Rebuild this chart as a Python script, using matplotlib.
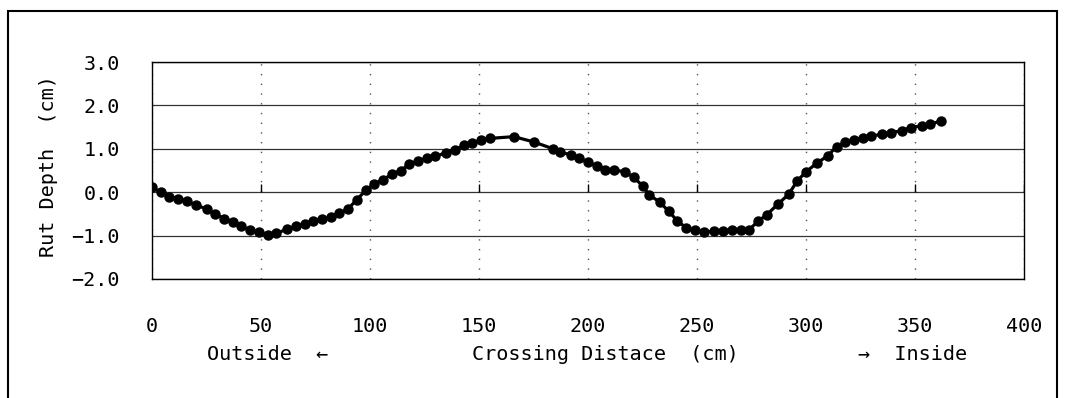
import matplotlib.pyplot as plt
from matplotlib.patches import Rectangle
from matplotlib.ticker import FuncFormatter

# crossing distance (cm) and rut depth (cm)
dist_cm = [0, 4, 8, 12, 16, 20, 25, 29, 33, 37, 41, 45, 49, 53, 57,
           62, 66, 70, 74, 78, 82, 86, 90, 94, 98, 102, 106, 110, 114, 118,
           122, 126, 130, 135, 139, 143, 147, 151, 155, 166, 175, 184, 187,
           192, 196, 200, 204, 208, 212, 217, 221, 225, 228, 233, 237, 241,
           245, 249, 253, 258, 262, 266, 270, 274, 278, 282, 287, 292, 296,
           300, 305, 310, 314, 318, 322, 326, 330, 335, 339, 344, 348, 353,
           357, 362]
rut_cm = [0.11, 0.00, -0.10, -0.15, -0.21, -0.30, -0.38, -0.50, -0.61, -0.69,
          -0.78, -0.88, -0.92, -0.99, -0.95,
          -0.85, -0.79, -0.73, -0.66, -0.62, -0.57, -0.49, -0.38, -0.17, 0.04,
          0.19, 0.29, 0.41, 0.50, 0.64,
          0.72, 0.78, 0.83, 0.91, 0.98, 1.08, 1.14, 1.20, 1.24, 1.28, 1.16,
          1.00, 0.93,
          0.86, 0.78, 0.69, 0.61, 0.51, 0.51, 0.47, 0.34, 0.15, -0.06, -0.23,
          -0.44, -0.66,
          -0.82, -0.88, -0.92, -0.90, -0.90, -0.86, -0.86, -0.86, -0.67, -0.52,
          -0.28, -0.05, 0.26,
          0.47, 0.67, 0.84, 1.05, 1.15, 1.21, 1.24, 1.30, 1.33, 1.37, 1.42,
          1.49, 1.53, 1.57, 1.64]

xticks = [0, 50, 100, 150, 200, 250, 300, 350, 400]
yticks = [-2.0, -1.0, 0.0, 1.0, 2.0, 3.0]

plt.rcParams['font.family'] = ['DejaVu Sans Mono', 'DejaVu Sans']
fs = 14.5
W, H = 1067, 398

fig = plt.figure(figsize=(W / 100, H / 100), dpi=100)
ax = fig.add_axes([152 / W, 1 - 279 / H, (1024 - 152) / W, (279 - 62) / H])

ax.plot(dist_cm, rut_cm, color='black', lw=2.3, marker='o', ms=6.5, zorder=3)
# small ticks on the x axis line at y = 0
ax.vlines(xticks, 0, 0.18, color='black', lw=1, zorder=2)

ax.set_xlim(0, 400)
ax.set_ylim(-2, 3)
ax.set_xticks(xticks)
ax.set_yticks(yticks)
ax.yaxis.set_major_formatter(FuncFormatter(lambda v, p: f'{v:.1f}'.replace('-', '\u2212')))
ax.tick_params(axis='y', length=0, pad=23, labelsize=fs)
ax.tick_params(axis='x', length=0, pad=27, labelsize=fs)

ax.yaxis.grid(True, color='#333333', lw=0.9)
ax.xaxis.grid(True, color='#555555', lw=1, ls=(0, (1, 6)))
ax.set_axisbelow(True)
for s in ax.spines.values():
    s.set_linewidth(1)
    s.set_color('black')

fig.text(49 / W, 1 - 166 / H, 'Rut Depth  (cm)', rotation=90,
         ha='center', va='center', fontsize=fs)
fig.text(268 / W, 1 - 355 / H, 'Outside  ←', ha='center', va='center', fontsize=fs)
fig.text(605 / W, 1 - 355 / H, 'Crossing Distace  (cm)', ha='center', va='center', fontsize=fs)
fig.text(913 / W, 1 - 355 / H, '→  Inside', ha='center', va='center', fontsize=fs)

# outer frame of the chart area
fig.add_artist(Rectangle((8 / W, -0.1), (1057 - 8) / W, 1 - 11 / H + 0.1,
                         transform=fig.transFigure, fill=False, lw=1.5, ec='black'))

fig.savefig('out.png', dpi=100)
